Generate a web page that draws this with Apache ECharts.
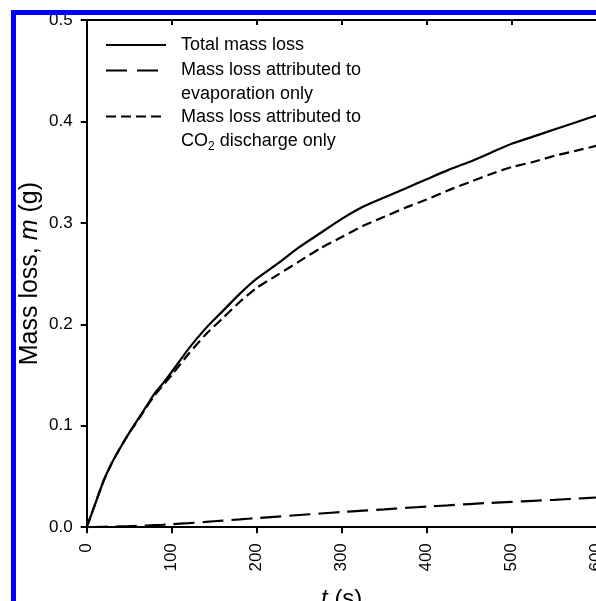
<!DOCTYPE html>
<html>
<head>
<meta charset="utf-8">
<script src="https://cdn.jsdelivr.net/npm/echarts@6.0.0/dist/echarts.min.js"></script>
<style>
html,body{margin:0;padding:0;background:#fff;}
#chart{width:596px;height:601px;}
</style>
</head>
<body>
<div id="chart"></div>
<script>
// time (s)
var timeS = [0,10,20,30,40,50,60,70,80,90,100,120,140,160,180,200,225,250,275,300,325,350,375,400,425,450,475,500,525,550,575,600];
// total mass loss (g)
var totalLoss = [0,0.023,0.046,0.064,0.079,0.093,0.106,0.119,0.132,0.142,0.153,0.176,0.196,0.213,0.230,0.245,0.260,0.276,0.290,0.304,0.316,0.325,0.334,0.343,0.352,0.360,0.369,0.378,0.385,0.392,0.399,0.406];
// mass loss from evaporation only (g)
var evapLoss = [0,0.0002,0.0004,0.0006,0.0008,0.001,0.0013,0.0016,0.002,0.0024,0.003,0.004,0.0052,0.0065,0.0077,0.009,0.0105,0.012,0.0135,0.015,0.0163,0.0176,0.019,0.0203,0.0215,0.0228,0.024,0.025,0.026,0.027,0.0281,0.0293];
// mass loss from CO2 discharge only (g)
var co2Loss = [0,0.023,0.046,0.064,0.079,0.093,0.105,0.118,0.130,0.140,0.150,0.171,0.190,0.206,0.222,0.236,0.249,0.262,0.275,0.286,0.297,0.306,0.315,0.323,0.332,0.340,0.348,0.355,0.360,0.366,0.371,0.376];

var FONT = '"Liberation Sans", Arial, sans-serif';

function pairs(ys){
	var out=[];
	for(var i=0;i<timeS.length;i++){ out.push([timeS[i], ys[i]]); }
	return out;
}

var dom = document.getElementById('chart');
var myChart = echarts.init(dom);

var axisLineStyle = {color:'#000', width:2};

var option = {
	backgroundColor:'#fff',
	animation:false,
	grid:{left:86.7, right:-0.7, top:20, bottom:73.8, containLabel:false, outerBoundsMode:'none'},
	xAxis:[{
		type:'value', position:'bottom', min:0, max:600, interval:100,
		axisLine:{show:true, onZero:false, lineStyle:axisLineStyle},
		axisTick:{show:true, inside:false, length:6, lineStyle:axisLineStyle},
		axisLabel:{show:true, rotate:90, margin:16, color:'#000', fontSize:17, fontFamily:FONT},
		splitLine:{show:false},
		name:'{i|t}{a| (s)}', nameLocation:'middle', nameGap:60, nameMoveOverlap:false,
		nameTextStyle:{color:'#000', fontSize:24, fontFamily:FONT,
			rich:{
				a:{color:'#000', fontSize:24, fontFamily:FONT},
				i:{color:'#000', fontSize:24, fontFamily:FONT, fontStyle:'italic'}
			}}
	},{
		type:'value', position:'top', min:0, max:600, interval:100,
		axisLine:{show:true, onZero:false, lineStyle:axisLineStyle},
		axisTick:{show:true, inside:true, length:5, lineStyle:axisLineStyle},
		axisLabel:{show:false},
		splitLine:{show:false}
	}],
	yAxis:{
		type:'value', min:0, max:0.5, interval:0.1,
		axisLine:{show:true, onZero:false, lineStyle:axisLineStyle},
		axisTick:{show:true, inside:false, length:6, lineStyle:axisLineStyle},
		axisLabel:{margin:14, color:'#000', fontSize:17, fontFamily:FONT,
			formatter:function(v){ return v.toFixed(1); }},
		splitLine:{show:false},
		name:'{a|Mass loss, }{i|m}{a| (g)}', nameLocation:'middle', nameGap:44, nameMoveOverlap:false,
		nameTextStyle:{color:'#000', fontSize:25, fontFamily:FONT,
			rich:{
				a:{color:'#000', fontSize:25, fontFamily:FONT},
				i:{color:'#000', fontSize:25, fontFamily:FONT, fontStyle:'italic'}
			}}
	},
	series:[{
		name:'Total mass loss', type:'line', xAxisIndex:0, showSymbol:false, smooth:0.2,
		lineStyle:{color:'#000', width:2.2, type:'solid'},
		data:pairs(totalLoss)
	},{
		name:'Mass loss attributed to evaporation only', type:'line', xAxisIndex:0, showSymbol:false, smooth:0.2,
		lineStyle:{color:'#000', width:2.2, type:[21,8]},
		data:pairs(evapLoss)
	},{
		name:'Mass loss attributed to CO2 discharge only', type:'line', xAxisIndex:0, showSymbol:false, smooth:0.2,
		lineStyle:{color:'#000', width:2.2, type:[10,5]},
		data:pairs(co2Loss)
	}],
	graphic:[
		// legend samples
		{type:'line', shape:{x1:106, y1:45, x2:166, y2:45}, style:{stroke:'#000', lineWidth:2}},
		{type:'line', shape:{x1:106, y1:70.5, x2:166, y2:70.5}, style:{stroke:'#000', lineWidth:2, lineDash:[21,10]}},
		{type:'line', shape:{x1:106, y1:116.5, x2:166, y2:116.5}, style:{stroke:'#000', lineWidth:2, lineDash:[10,5]}},
		// legend texts
		{type:'text', x:181, y:45.5, style:{text:'Total mass loss', fill:'#000', font:'18px '+FONT, verticalAlign:'middle'}},
		{type:'text', x:181, y:58.5, style:{text:'Mass loss attributed to\nevaporation only', fill:'#000', font:'18px '+FONT, lineHeight:23.5, verticalAlign:'top'}},
		{type:'text', x:181, y:105.5, style:{
			text:'{n|Mass loss attributed to}\n{n|CO}{s|2}{n| discharge only}',
			fill:'#000', verticalAlign:'top',
			rich:{
				n:{fontSize:18, fontFamily:FONT, lineHeight:23.5, fill:'#000'},
				s:{fontSize:12, fontFamily:FONT, lineHeight:8, verticalAlign:'bottom', fill:'#000'}
			}}},
		// blue frame
		{type:'rect', z:100, shape:{x:13.5, y:12.5, width:1000, height:1000},
			style:{fill:null, stroke:'#0000ff', lineWidth:5}}
	]
};

if (option && typeof option === "object") {
	myChart.setOption(option, true);
}
</script>
</body>
</html>
